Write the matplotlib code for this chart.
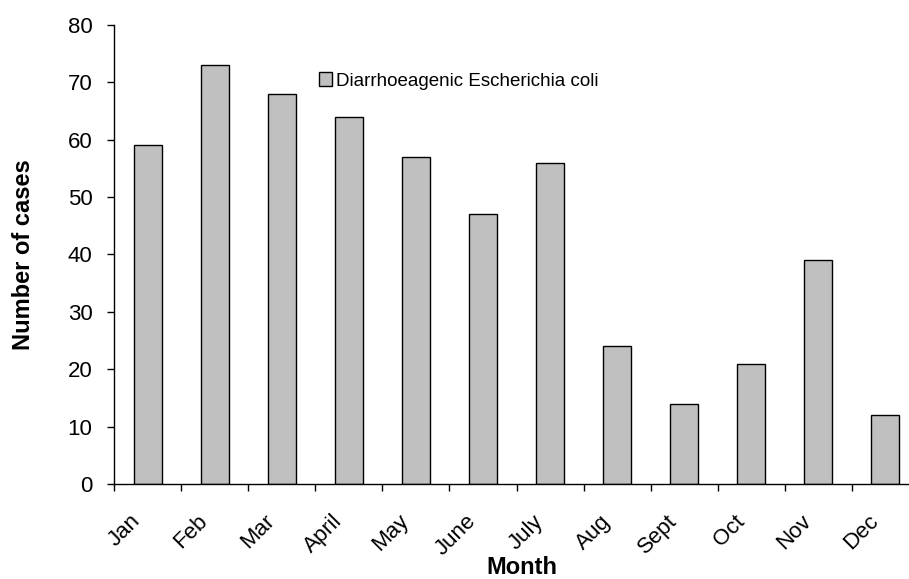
import matplotlib
matplotlib.use("Agg")
import matplotlib.pyplot as plt
import numpy as np
from matplotlib.transforms import ScaledTranslation

months = ["Jan", "Feb", "Mar", "April", "May", "June", "July", "Aug", "Sept", "Oct", "Nov", "Dec"]
cases = [59, 73, 68, 64, 57, 47, 56, 24, 14, 21, 39, 12]
series_name = "Diarrhoeagenic Escherichia coli"
y_ticks = [0, 10, 20, 30, 40, 50, 60, 70, 80]

plt.rcParams['font.family'] = ['Liberation Sans', 'DejaVu Sans']

W, H = 909, 579
fig = plt.figure(figsize=(W / 100, H / 100), dpi=100)
left, right, top, bottom = 114, 919, 25, 484
ax = fig.add_axes([left / W, 1 - bottom / H, (right - left) / W, (bottom - top) / H])

x = np.arange(len(months))
ax.bar(x, cases, width=0.417, color='#c0c0c0', edgecolor='black', linewidth=1.0,
       label=series_name, zorder=2)

ax.set_xlim(-0.5, len(months) - 0.5)
ax.set_ylim(0, 80)
ax.set_yticks(y_ticks)
ax.tick_params(axis='y', direction='out', length=5.4, width=1, pad=10, labelsize=16)

# boundaries as major ticks, labels at centers as minor ticks
ax.set_xticks(np.arange(len(months) + 1) - 0.5)
ax.set_xticklabels([])
ax.tick_params(axis='x', which='major', direction='out', length=5.2, width=1)
ax.set_xticks(x, labels=months, minor=True)
ax.tick_params(axis='x', which='minor', length=0, pad=0, labelsize=16)
off = ScaledTranslation(-6 / 100, -38 / 100, fig.dpi_scale_trans)
for lbl in ax.get_xticklabels(minor=True):
    lbl.set_rotation(45)
    lbl.set_ha('right')
    lbl.set_va('baseline')
    lbl.set_rotation_mode('anchor')
    lbl.set_transform(lbl.get_transform() + off)

for s in ['top', 'right']:
    ax.spines[s].set_visible(False)
for s in ['left', 'bottom']:
    ax.spines[s].set_linewidth(1)
    ax.spines[s].set_color('black')

ax.set_ylabel("Number of cases", fontsize=17, fontweight='bold', va='center')
ax.yaxis.set_label_coords((24 - left) / (right - left), 0.5)
ax.set_xlabel("Month", fontsize=17, fontweight='bold', va='center')
ax.xaxis.set_label_coords((521.5 - left) / (right - left), (bottom - 568) / (bottom - top))

leg = fig.legend(loc='center left', bbox_to_anchor=(319 / W, 1 - 81 / H), frameon=False,
                 fontsize=13.5, handlelength=0.7, handleheight=0.7, handletextpad=0.2,
                 borderpad=0, borderaxespad=0)

fig.savefig("out.png", dpi=100)
